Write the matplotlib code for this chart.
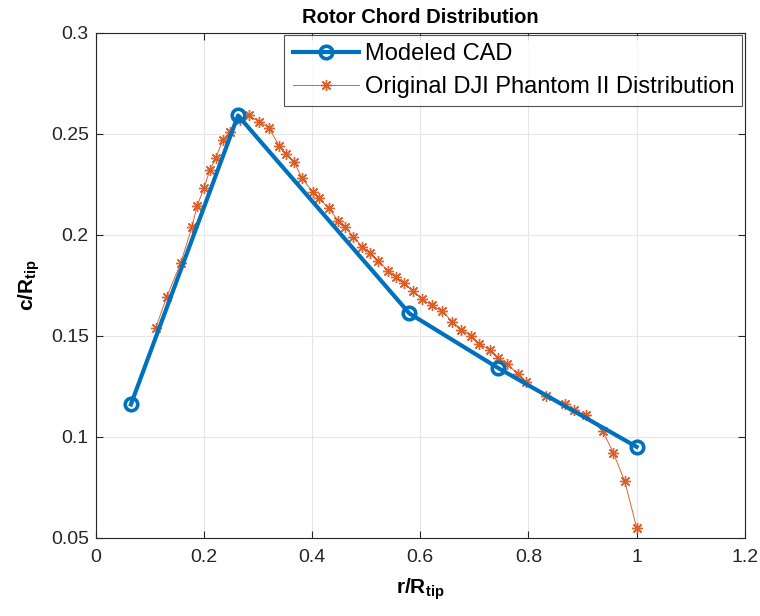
import matplotlib
matplotlib.use("Agg")
import matplotlib.pyplot as plt

plt.rcParams["font.family"] = ["Liberation Sans", "DejaVu Sans"]
plt.rcParams["mathtext.fontset"] = "custom"
plt.rcParams["mathtext.rm"] = "Liberation Sans"
plt.rcParams["mathtext.bf"] = "Liberation Sans:bold"

# Modeled CAD section stations
cad_r = [0.065, 0.263, 0.580, 0.744, 1.0]
cad_c = [0.116, 0.259, 0.161, 0.134, 0.095]

# Original DJI Phantom II chord distribution
dji_r = [0.111, 0.131, 0.157, 0.178, 0.187, 0.200, 0.211, 0.222, 0.235, 0.248,
         0.267, 0.283, 0.302, 0.320, 0.339, 0.352, 0.367, 0.381, 0.402, 0.413,
         0.431, 0.448, 0.461, 0.476, 0.493, 0.507, 0.522, 0.541, 0.556, 0.569,
         0.587, 0.604, 0.622, 0.641, 0.659, 0.676, 0.693, 0.709, 0.728, 0.744,
         0.761, 0.780, 0.796, 0.833, 0.867, 0.885, 0.906, 0.937, 0.957, 0.978,
         1.0]
dji_c = [0.154, 0.169, 0.186, 0.204, 0.214, 0.223, 0.232, 0.238, 0.247, 0.251,
         0.257, 0.259, 0.256, 0.253, 0.244, 0.240, 0.236, 0.228, 0.221, 0.218,
         0.213, 0.207, 0.204, 0.199, 0.194, 0.191, 0.187, 0.182, 0.179, 0.176,
         0.172, 0.168, 0.165, 0.162, 0.157, 0.153, 0.150, 0.146, 0.143, 0.139,
         0.136, 0.131, 0.127, 0.120, 0.116, 0.113, 0.111, 0.103, 0.092, 0.078,
         0.055]

x_ticks = [0, 0.2, 0.4, 0.6, 0.8, 1, 1.2]
x_tick_labels = ["0", "0.2", "0.4", "0.6", "0.8", "1", "1.2"]
y_ticks = [0.05, 0.1, 0.15, 0.2, 0.25, 0.3]
y_tick_labels = ["0.05", "0.1", "0.15", "0.2", "0.25", "0.3"]

BLUE = "#0072BD"
ORANGE = "#D95319"

fig = plt.figure(figsize=(7.6, 6.16), dpi=100)
ax = fig.add_axes([0.126, 0.127, 0.854, 0.820])

ax.plot(cad_r, cad_c, color=BLUE, linewidth=3.0, marker="o",
        markersize=9, markerfacecolor="none", markeredgewidth=2.6,
        label="Modeled CAD", zorder=3)
ax.plot(dji_r, dji_c, color=ORANGE, linewidth=0.7, marker=(8, 2, 0),
        markersize=8, markeredgewidth=1.0, alpha=0.9,
        label="Original DJI Phantom II Distribution", zorder=2)

ax.set_xlim(0, 1.2)
ax.set_ylim(0.05, 0.3)
ax.set_xticks(x_ticks)
ax.set_xticklabels(x_tick_labels)
ax.set_yticks(y_ticks)
ax.set_yticklabels(y_tick_labels)
ax.tick_params(direction="in", length=5, width=0.8, labelsize=14,
               top=True, right=True, colors="#262626", labelcolor="#262626")
ax.tick_params(axis="x", pad=8)
ax.tick_params(axis="y", pad=5)
ax.grid(True, color="#e6e6e6", linewidth=0.8)
ax.set_axisbelow(True)
for sp in ax.spines.values():
    sp.set_color("#262626")
    sp.set_linewidth(0.8)

ax.set_title("Rotor Chord Distribution", fontsize=14.5, fontweight="bold", pad=7)
ax.set_xlabel(r"$\mathbf{r/R_{tip}}$", fontsize=15, labelpad=8)
ax.set_ylabel(r"$\mathbf{c/R_{tip}}$", fontsize=15, labelpad=6)

leg = ax.legend(loc="upper right", fontsize=17, frameon=True, fancybox=False,
                borderaxespad=0.1, handlelength=2.8, borderpad=0.35,
                labelspacing=0.45, handletextpad=0.25)
leg.get_frame().set_edgecolor("#262626")
leg.get_frame().set_linewidth(0.8)

fig.savefig("out.png", dpi=100)
